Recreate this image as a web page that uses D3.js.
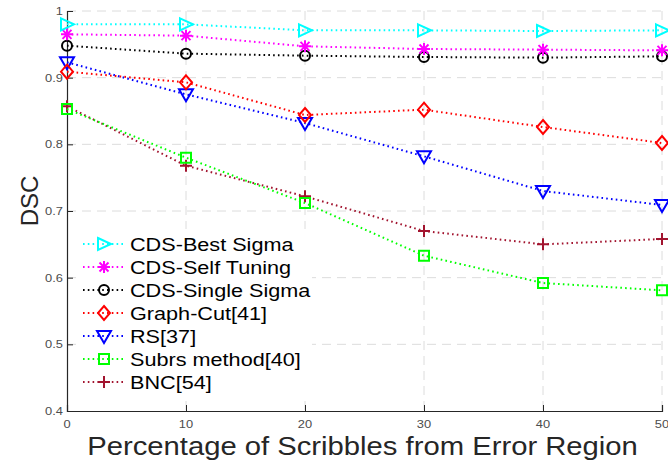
<!DOCTYPE html>
<html>
  <head>
    <meta charset="UTF-8">
    <title>DSC vs scribbles</title>
  </head>
  <style type="text/css">
    body { margin: 0; background: #fff; }
    text { font-family: "Liberation Sans", Arial, sans-serif; fill: #262626; }
    .grid line { stroke: #dcdcdc; stroke-width: 1; stroke-dasharray: 9,6; }
    .series { fill: none; stroke-width: 2; stroke-dasharray: 1.6,3.2; }
    .marker { fill: none; stroke-width: 2; }
  </style>
  <body>
    <svg width="668" height="460"></svg>
  </body>
  <script src="https://d3js.org/d3.v7.min.js"></script>
  <script type="text/javascript">
    // data
    const xValues = [0, 10, 20, 30, 40, 50];
    const bestSigma   = [0.980, 0.980, 0.971, 0.971, 0.970, 0.971];
    const selfTuning  = [0.965, 0.963, 0.947, 0.943, 0.942, 0.941];
    const singleSigma = [0.948, 0.936, 0.933, 0.931, 0.930, 0.932];
    const graphCut    = [0.909, 0.893, 0.844, 0.852, 0.826, 0.802];
    const rs          = [0.923, 0.875, 0.832, 0.782, 0.730, 0.709];
    const subrs       = [0.853, 0.780, 0.712, 0.633, 0.592, 0.581];
    const bnc         = [0.857, 0.768, 0.722, 0.670, 0.650, 0.658];
    const yTicks = [0.4, 0.5, 0.6, 0.7, 0.8, 0.9, 1];
    const xTicks = [0, 10, 20, 30, 40, 50];

    const series = [
      { name: 'CDS-Best Sigma',   values: bestSigma,   color: '#00ffff', marker: 'tri-right' },
      { name: 'CDS-Self Tuning',  values: selfTuning,  color: '#ff00ff', marker: 'star' },
      { name: 'CDS-Single Sigma', values: singleSigma, color: '#000000', marker: 'circle' },
      { name: 'Graph-Cut[41]',    values: graphCut,    color: '#ff0000', marker: 'diamond' },
      { name: 'RS[37]',           values: rs,          color: '#0000ff', marker: 'tri-down' },
      { name: 'Subrs method[40]', values: subrs,       color: '#00ff00', marker: 'square' },
      { name: 'BNC[54]',          values: bnc,         color: '#a2142f', marker: 'plus' }
    ];

    let svg = d3.select('svg'),
        margin = { left: 67, right: 6, top: 11, bottom: 49 },
        width = +svg.attr('width') - margin.left - margin.right,
        height = +svg.attr('height') - margin.top - margin.bottom,
        g = svg.append('g').attr('transform', 'translate(' + margin.left + ',' + margin.top + ')');

    const x = d3.scaleLinear().domain([0, 50]).range([0, width]);
    const y = d3.scaleLinear().domain([0.4, 1]).range([height, 0]);
    const sx = 1.17; // text in the figure is a bit wider than tall

    // grid
    const grid = g.append('g').attr('class', 'grid');
    grid.selectAll('.gx').data(xTicks.slice(1)).enter().append('line')
      .attr('x1', d => x(d)).attr('x2', d => x(d))
      .attr('y1', 0).attr('y2', height);
    grid.selectAll('.gy').data(yTicks.slice(1)).enter().append('line')
      .attr('x1', 0).attr('x2', width)
      .attr('y1', d => y(d)).attr('y2', d => y(d));

    // axes, ticks pointing inward
    const xAxis = g.append('g').attr('transform', 'translate(0,' + height + ')')
      .call(d3.axisBottom(x).tickValues(xTicks).tickSize(-6).tickPadding(0).tickFormat(''));
    const yAxis = g.append('g')
      .call(d3.axisLeft(y).tickValues(yTicks).tickSize(-6).tickPadding(0).tickFormat(''));
    [xAxis, yAxis].forEach(a => {
      a.select('.domain').attr('stroke', '#262626').attr('stroke-width', 1.2);
      a.selectAll('.tick line').attr('stroke', '#262626');
    });

    g.selectAll('.xlab').data(xTicks).enter().append('text')
      .attr('transform', d => 'translate(' + x(d) + ',' + (height + 17) + ') scale(' + sx + ',1)')
      .attr('text-anchor', 'middle')
      .style('font-size', '11px').style('fill', '#4d4d4d')
      .text(d => d);
    g.selectAll('.ylab').data(yTicks).enter().append('text')
      .attr('transform', d => 'translate(-4,' + (y(d) + 4) + ') scale(' + sx + ',1)')
      .attr('text-anchor', 'end')
      .style('font-size', '11px').style('fill', '#4d4d4d')
      .text(d => d);

    // axis titles
    svg.append('text')
      .attr('transform', 'translate(' + (margin.left + width / 2 - 2) + ',455) scale(' + sx + ',1)')
      .attr('text-anchor', 'middle')
      .style('font-size', '25px')
      .text('Percentage of Scribbles from Error Region');
    svg.append('text')
      .attr('transform', 'translate(38,201) rotate(-90)')
      .attr('text-anchor', 'middle')
      .style('font-size', '24px')
      .text('DSC');

    const markerPath = (type) => {
      const s = 6;
      switch (type) {
        case 'tri-right': return 'M' + (-s) + ',' + (-s) + 'L' + (s + 1) + ',0L' + (-s) + ',' + s + 'Z';
        case 'tri-down': return 'M' + (-s - 1) + ',' + (-s + 1) + 'L' + (s + 1) + ',' + (-s + 1) + 'L0,' + (s + 1) + 'Z';
        case 'diamond': return 'M0,' + (-s - 1) + 'L' + (s) + ',0L0,' + (s + 1) + 'L' + (-s) + ',0Z';
        case 'square': return 'M-5,-5H5V5H-5Z';
        case 'plus': return 'M-6,0H6M0,-6V6';
        case 'star': return 'M-6,0H6M0,-6V6M-4.5,-4.5L4.5,4.5M-4.5,4.5L4.5,-4.5';
      }
      return null;
    };

    const drawMarker = (sel, s, cx, cy) => {
      if (s.marker === 'circle') {
        sel.append('circle').attr('class', 'marker')
          .attr('cx', cx).attr('cy', cy).attr('r', 5)
          .attr('stroke', s.color);
      } else {
        sel.append('path').attr('class', 'marker')
          .attr('transform', 'translate(' + cx + ',' + cy + ')')
          .attr('d', markerPath(s.marker))
          .attr('stroke', s.color)
          .attr('stroke-width', s.marker === 'star' ? 2.6 : 2);
      }
    };

    const line = d3.line().x((d, i) => x(xValues[i])).y(d => y(d));

    // draw in reverse so the top entries sit above
    series.slice().reverse().forEach(s => {
      const sg = g.append('g');
      sg.append('path').attr('class', 'series')
        .attr('d', line(s.values))
        .attr('stroke', s.color);
      s.values.forEach((v, i) => drawMarker(sg, s, x(xValues[i]), y(v)));
    });

    // legend
    const lg = svg.append('g');
    lg.append('rect')
      .attr('x', 78).attr('y', 229).attr('width', 234).attr('height', 166)
      .attr('fill', '#fff');
    series.forEach((s, i) => {
      const cy = 244 + i * 23;
      lg.append('line').attr('class', 'series')
        .attr('x1', 83).attr('x2', 124).attr('y1', cy).attr('y2', cy)
        .attr('stroke', s.color);
      drawMarker(lg, s, 104, cy);
      lg.append('text')
        .attr('transform', 'translate(130,' + (cy + 7) + ') scale(' + sx + ',1)')
        .style('font-size', '18.5px')
        .style('fill', '#000')
        .text(s.name);
    });
  </script>
</html>
